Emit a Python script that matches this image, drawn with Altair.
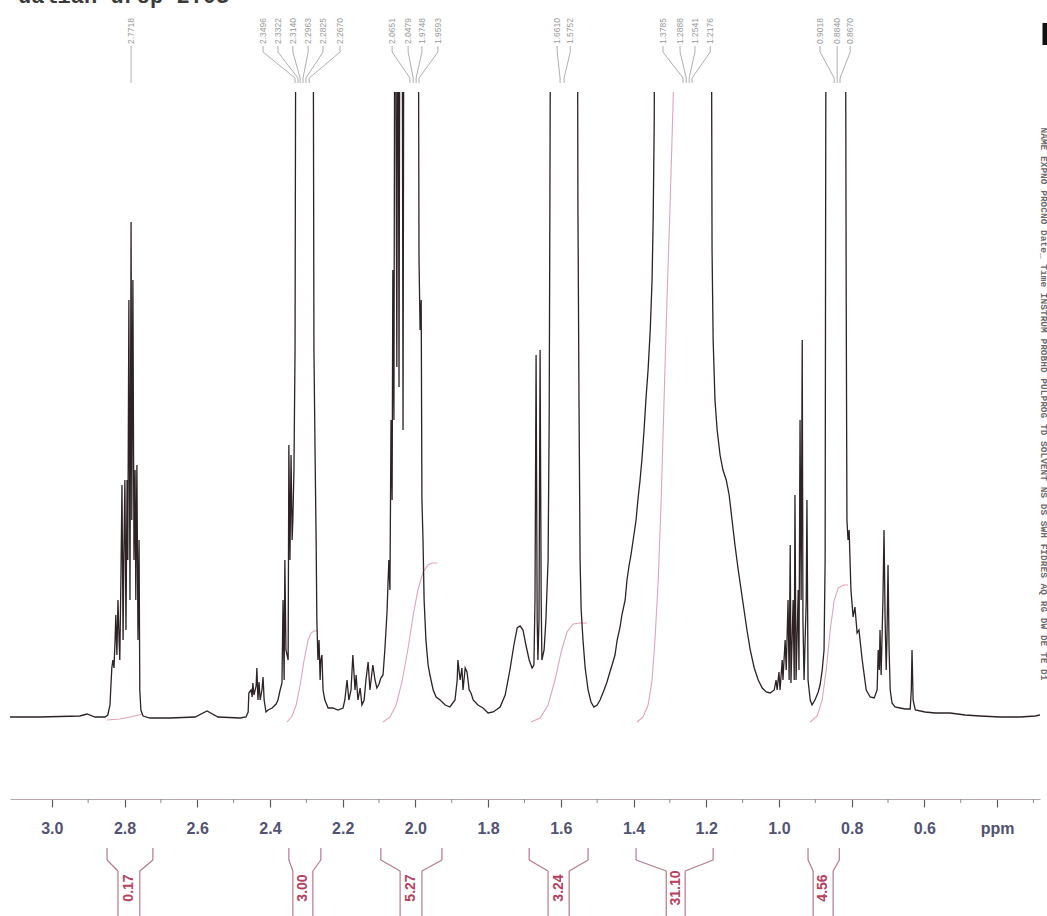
import altair as alt
import pandas as pd

title_text = "dalian drop 2.03"

# ---- spectrum trace (ppm, intensity in arbitrary units; >625 runs off the top) ----
spec_ppm = [
    3.115, 3.033, 2.923, 2.903, 2.881, 2.854, 2.846, 2.840, 2.835, 2.832, 2.829, 2.826, 2.824, 2.821, 2.818, 2.815,
    2.813, 2.810, 2.807, 2.804, 2.802, 2.799, 2.796, 2.793, 2.791, 2.788, 2.785, 2.782, 2.780, 2.777, 2.774, 2.771,
    2.769, 2.766, 2.763, 2.760, 2.758, 2.755, 2.749, 2.730, 2.675, 2.606, 2.573, 2.543, 2.482, 2.466,
    2.460, 2.458, 2.452, 2.449, 2.447, 2.444, 2.438, 2.436, 2.433, 2.430, 2.427, 2.422, 2.419, 2.416, 2.411, 2.405,
    2.394, 2.383, 2.378, 2.372, 2.367, 2.364, 2.361, 2.359, 2.356, 2.350, 2.348, 2.345, 2.342, 2.339, 2.337, 2.334,
    2.331, 2.328, 2.304, 2.282, 2.279, 2.276, 2.273, 2.271, 2.268, 2.265, 2.262, 2.260, 2.257, 2.254, 2.249, 2.240,
    2.227, 2.213, 2.199,
    2.194, 2.188, 2.183, 2.177, 2.172, 2.166, 2.163, 2.158, 2.152, 2.147, 2.141, 2.136, 2.130, 2.125, 2.117, 2.111,
    2.106, 2.100, 2.095, 2.089, 2.084, 2.078, 2.073, 2.070, 2.067, 2.064, 2.062, 2.059, 2.056, 2.051, 2.048, 2.045,
    2.042, 2.037, 2.034, 2.031,
    2.015, 1.993, 1.990, 1.987, 1.984, 1.982, 1.979, 1.976, 1.971, 1.965, 1.960, 1.951, 1.943, 1.932, 1.918,
    1.905, 1.891, 1.885, 1.883, 1.877, 1.872, 1.869, 1.863, 1.858, 1.852, 1.847, 1.841, 1.828, 1.814, 1.800, 1.786,
    1.767, 1.753, 1.740, 1.729, 1.720, 1.712, 1.704, 1.696, 1.687, 1.679, 1.674, 1.671, 1.668, 1.665, 1.663, 1.660,
    1.657, 1.654, 1.652, 1.646, 1.641, 1.635, 1.632, 1.630, 1.627, 1.588, 1.555, 1.553, 1.550, 1.547, 1.544, 1.539,
    1.533, 1.525, 1.517, 1.509, 1.500, 1.492, 1.481, 1.473, 1.465, 1.459, 1.451, 1.445, 1.437, 1.432, 1.423, 1.418,
    1.412, 1.407, 1.401, 1.393, 1.388, 1.382, 1.377, 1.371, 1.366, 1.360, 1.354, 1.349, 1.346, 1.343, 1.341, 1.264,
    1.187, 1.184, 1.181, 1.176, 1.170, 1.162, 1.154, 1.145, 1.137, 1.129, 1.121, 1.112, 1.104, 1.096, 1.088, 1.079,
    1.068, 1.057, 1.046, 1.035, 1.024,
    1.013, 1.008, 1.005, 1.000, 0.997, 0.991, 0.989, 0.983, 0.980, 0.975, 0.972, 0.969, 0.967, 0.961, 0.958, 0.956,
    0.953, 0.947, 0.945, 0.942, 0.939, 0.936, 0.934, 0.931, 0.928, 0.925, 0.923, 0.920, 0.914, 0.909, 0.901, 0.892,
    0.887, 0.881, 0.876, 0.873, 0.870, 0.846, 0.818, 0.815, 0.813, 0.810, 0.807, 0.802, 0.796, 0.791, 0.785, 0.780,
    0.771, 0.760, 0.749, 0.738, 0.730, 0.727, 0.724, 0.722, 0.719, 0.714, 0.711, 0.708, 0.705, 0.703, 0.700, 0.697,
    0.694, 0.689, 0.681, 0.667, 0.653, 0.639, 0.636, 0.634, 0.631, 0.625, 0.598, 0.570, 0.529, 0.488, 0.447, 0.392,
    0.337, 0.295, 0.282,
]
spec_int = [
    0, 0, 1, 3, 0, 0, 2, 12, 49, 57, 49, 77, 102, 62, 117, 77,
    57, 137, 232, 77, 157, 237, 87, 237, 157, 417, 117, 495, 197, 437, 157, 247,
    117, 252, 77, 177, 27, 7, 1, -1, -1, 0, 6, 0, -1, 0,
    5, 24, 27, 20, 34, 22, 31, 49, 17, 35, 17, 27, 40, 17, 5, 7,
    9, 13, 17, 27, 34, 117, 37, 157, 67, 57, 272, 157, 262, 177, 197, 247,
    367, 900, 900, 900, 367, 267, 177, 97, 57, 77, 37, 57, 62, 27, 17, 9,
    9, 7, 9,
    17, 37, 17, 27, 62, 27, 42, 17, 29, 12, 17, 37, 55, 27, 52, 37,
    29, 33, 39, 42, 67, 105, 157, 127, 297, 217, 447, 297, 900, 350, 900, 330,
    900, 900, 287, 900,
    900, 900, 457, 387, 417, 217, 177, 117, 77, 52, 42, 27, 20, 17, 12,
    10, 17, 37, 57, 37, 49, 27, 49, 45, 27, 24, 17, 12, 9, 4, 5,
    10, 22, 47, 72, 89, 91, 87, 72, 57, 49, 52, 117, 362, 97, 57, 97,
    367, 117, 57, 67, 97, 157, 297, 517, 900, 900, 900, 517, 317, 157, 107, 77,
    49, 27, 15, 10, 12, 17, 27, 35, 45, 52, 62, 77, 90, 102, 117, 137,
    152, 162, 177, 197, 217, 237, 257, 287, 317, 347, 387, 437, 497, 597, 900, 900,
    900, 467, 377, 317, 287, 262, 247, 237, 222, 197, 172, 147, 127, 107, 87, 67,
    49, 37, 29, 25, 24,
    27, 37, 27, 45, 27, 57, 37, 77, 47, 117, 37, 172, 34, 117, 37, 222,
    37, 127, 47, 297, 117, 377, 97, 37, 77, 117, 217, 37, 17, 12, 17, 25,
    32, 47, 67, 157, 900, 900, 900, 417, 197, 177, 187, 127, 100, 110, 84, 87,
    57, 27, 20, 19, 27, 67, 47, 87, 42, 117, 187, 97, 47, 77, 152, 67,
    27, 14, 10, 9, 8, 8, 27, 67, 17, 7, 5, 4, 4, 2, 1, 0,
    0, 1, 2,
]

# ---- integral curves ----
int_curve_ppm = [
    [2.848, 2.813, 2.785, 2.749],
    [2.353, 2.339, 2.328, 2.317, 2.306, 2.295, 2.287, 2.279, 2.268],
    [2.089, 2.070, 2.053, 2.037, 2.020, 2.006, 1.993, 1.979, 1.965, 1.954, 1.940],
    [1.682, 1.657, 1.635, 1.616, 1.599, 1.583, 1.566, 1.547, 1.528],
    [1.390, 1.374, 1.360, 1.349, 1.341, 1.332, 1.324, 1.316, 1.308, 1.299, 1.291, 1.283],
    [0.914, 0.895, 0.881, 0.870, 0.859, 0.848, 0.837, 0.823, 0.810],
]
int_curve_val = [
    [-3, -2, 0, 3],
    [-5, 1, 12, 32, 57, 77, 84, 86, 86],
    [-5, 0, 12, 35, 69, 102, 127, 145, 152, 154, 154],
    [-5, -1, 12, 37, 65, 85, 93, 94, 94],
    [-5, 0, 12, 37, 77, 137, 217, 317, 417, 517, 617, 717],
    [-5, 1, 17, 47, 87, 117, 129, 132, 132],
]

# ---- integration brackets ----
int_outer_left = [2.848, 2.348, 2.095, 1.687, 1.393, 0.920]
int_outer_right = [2.722, 2.260, 1.927, 1.525, 1.181, 0.834]
int_inner_left = [2.818, 2.337, 2.042, 1.635, 1.310, 0.906]
int_inner_right = [2.758, 2.282, 1.982, 1.577, 1.258, 0.851]
int_labels = ["0.17", "3.00", "5.27", "3.24", "31.10", "4.56"]

# ---- peak picking labels ----
peak_label_ppm = [2.782,
                  2.419, 2.378, 2.337, 2.295, 2.254, 2.207,
                  2.064, 2.020, 1.982, 1.938,
                  1.610, 1.574,
                  1.319, 1.272, 1.231, 1.189,
                  0.887, 0.840, 0.804]
peak_target_ppm = [2.782,
                   2.331, 2.323, 2.317, 2.309, 2.301, 2.292,
                   2.015, 2.006, 1.998, 1.990,
                   1.602, 1.591,
                   1.264, 1.255, 1.247, 1.239,
                   0.848, 0.840, 0.832]
peak_label_text = ["2.7718",
                   "2.3496", "2.3322", "2.3140", "2.2963", "2.2825", "2.2670",
                   "2.0651", "2.0479", "1.9748", "1.9593",
                   "1.6610", "1.5752",
                   "1.3785", "1.2888", "1.2541", "1.2176",
                   "0.9018", "0.8840", "0.8670"]

tick_values = [3.0, 2.8, 2.6, 2.4, 2.2, 2.0, 1.8, 1.6, 1.4, 1.2, 1.0, 0.8, 0.6, 0.4]
minor_ticks = [2.9, 2.7, 2.5, 2.3, 2.1, 1.9, 1.7, 1.5, 1.3, 1.1, 0.9, 0.7, 0.5, 0.3]

param_text = "NAME EXPNO PROCNO Date_ Time INSTRUM PROBHD PULPROG TD SOLVENT NS DS SWH FIDRES AQ RG DW DE TE D1"

# ---------------- data frames ----------------
spec_df = pd.DataFrame({"ppm": spec_ppm, "intensity": spec_int, "i": list(range(len(spec_ppm)))})

rows = []
for k, (pp, vv) in enumerate(zip(int_curve_ppm, int_curve_val)):
    for j, (p, v) in enumerate(zip(pp, vv)):
        rows.append({"ppm": p, "val": v, "id": k, "j": j})
int_df = pd.DataFrame(rows)

br_df = pd.DataFrame({
    "ol": int_outer_left, "or": int_outer_right,
    "il": int_inner_left, "ir": int_inner_right,
    "label": int_labels,
})
br_df["c"] = (br_df["il"] + br_df["ir"]) / 2

pk_df = pd.DataFrame({"lbl": peak_label_ppm, "pk": peak_target_ppm, "txt": peak_label_text})
minor_df = pd.DataFrame({"m": minor_ticks})

# ---------------- scales / axis ----------------
xscale = alt.Scale(domain=[0.282, 3.115], reverse=True, nice=False, zero=False)
yscale = alt.Scale(domain=[-82, 625], nice=False, zero=False)
xaxis = alt.Axis(
    values=tick_values, title=None, grid=False,
    tickSize=8, tickColor="#5a5a5a", tickWidth=1.2,
    domainColor="#b9a5ad", domainWidth=1.2,
    labelFont="Liberation Sans", labelFontSize=16, labelFontWeight="bold",
    labelColor="#525272", labelPadding=13, labelFlush=False, labelOverlap=False,
    labelExpr="datum.value < 0.45 ? 'ppm' : format(datum.value, '.1f')",
)


def X(f):
    return alt.X(f"{f}:Q", scale=xscale, axis=xaxis)


SPEC = "#2d2224"
PINK = "#e2a4b6"
BRACK = "#b57a88"
INTTXT = "#b9405c"
GREY = "#a6a6a6"

spectrum = alt.Chart(spec_df).mark_line(color=SPEC, strokeWidth=1.3, clip=True).encode(
    x=X("ppm"), y=alt.Y("intensity:Q", scale=yscale, axis=None), order="i:Q"
)
integrals = alt.Chart(int_df).mark_line(color=PINK, strokeWidth=1.1, clip=True).encode(
    x=X("ppm"), y=alt.Y("val:Q", scale=yscale, axis=None), detail="id:N", order="j:Q"
)
minor = alt.Chart(minor_df).mark_rule(color="#8a8a8a", strokeWidth=1).encode(
    x=X("m"), y=alt.value(707), y2=alt.value(711)
)

# bracket pieces (y in pixels below the axis)
b = alt.Chart(br_df).mark_rule(color=BRACK, strokeWidth=1.2)
br_layers = [
    b.encode(x=X("ol"), y=alt.value(756), y2=alt.value(768)),
    b.encode(x=X("ol"), x2="il", y=alt.value(768), y2=alt.value(779)),
    b.encode(x=X("il"), y=alt.value(779), y2=alt.value(830)),
    b.encode(x=X("or"), y=alt.value(756), y2=alt.value(768)),
    b.encode(x=X("or"), x2="ir", y=alt.value(768), y2=alt.value(779)),
    b.encode(x=X("ir"), y=alt.value(779), y2=alt.value(830)),
]
br_text = alt.Chart(br_df).mark_text(
    angle=270, align="center", baseline="middle", font="Liberation Sans",
    fontSize=14, fontWeight="bold", color=INTTXT,
).encode(x=X("c"), y=alt.value(796), text="label:N")

# peak labels above the plot
p = alt.Chart(pk_df).mark_rule(color=GREY, strokeWidth=0.9)
pk_layers = [
    p.encode(x=X("lbl"), y=alt.value(-46), y2=alt.value(-40)),
    p.encode(x=X("lbl"), x2="pk", y=alt.value(-40), y2=alt.value(-14)),
    p.encode(x=X("pk"), y=alt.value(-14), y2=alt.value(-9)),
]
pk_text = alt.Chart(pk_df).mark_text(
    angle=270, align="left", baseline="middle", font="Liberation Sans",
    fontSize=8.5, color="#9a9a9a",
).encode(x=X("lbl"), y=alt.value(-48), text="txt:N")

title = alt.Chart(pd.DataFrame({"t": [title_text]})).mark_text(
    align="left", baseline="alphabetic", font="Liberation Mono", fontSize=22,
    fontWeight="bold", color="#3a3a3a",
).encode(x=alt.value(8), y=alt.value(-89), text="t:N")

params = alt.Chart(pd.DataFrame({"t": [param_text]})).mark_text(
    angle=90, align="center", baseline="middle", font="Liberation Mono", fontSize=9.5,
    fontWeight="bold", color="#6a6a6a",
).encode(x=alt.value(1034), y=alt.value(312), text="t:N")

bar = alt.Chart(pd.DataFrame({"t": [1]})).mark_rule(color="#111111", strokeWidth=5).encode(
    x=alt.value(1035), y=alt.value(-69), y2=alt.value(-47)
)

chart = alt.layer(
    integrals, spectrum, minor, *br_layers, br_text, *pk_layers, pk_text, title, params, bar
).properties(
    width=1030, height=707,
    padding={"left": 10, "top": 92, "right": 7, "bottom": 117},
    autosize=alt.AutoSizeParams(type="none"),
    background="white",
).configure_view(stroke=None)

chart.save("out.html", embed_options={"renderer": "svg", "actions": False})
